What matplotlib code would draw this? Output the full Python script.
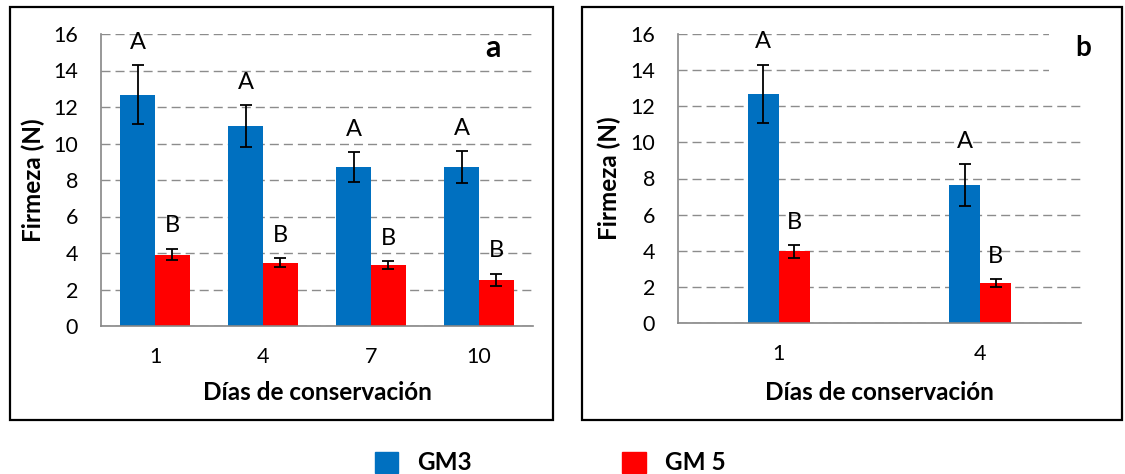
import matplotlib
matplotlib.use("Agg")
import matplotlib.pyplot as plt
from matplotlib.patches import Rectangle, Patch
import numpy as np

plt.rcParams['font.family'] = ['Lato', 'DejaVu Sans']

# panel a
dias_a = ['1', '4', '7', '10']
gm3_a = [12.67, 10.95, 8.69, 8.69]
gm3_a_err = [1.62, 1.16, 0.82, 0.88]
gm5_a = [3.91, 3.46, 3.35, 2.54]
gm5_a_err = [0.32, 0.25, 0.22, 0.33]

# panel b
dias_b = ['1', '4']
gm3_b = [12.68, 7.63]
gm3_b_err = [1.63, 1.16]
gm5_b = [3.96, 2.22]
gm5_b_err = [0.34, 0.23]

letra_gm3 = 'A'
letra_gm5 = 'B'
series = ['GM3', 'GM 5']

AZUL = '#0070C0'
ROJO = '#FF0000'
GRIS = '#868686'

W, H = 1125, 474
fig = plt.figure(figsize=(W / 100, H / 100), dpi=100)


def px_axes(l, r, t, b):
    return [l / W, 1 - b / H, (r - l) / W, (b - t) / H]


def panel(ax, dias, gm3, gm3_err, gm5, gm5_err, width):
    x = np.arange(len(dias))
    ax.set_axisbelow(True)
    ax.yaxis.grid(True, color='#8c8c8c', lw=1.0, linestyle=(0, (6.5, 3.6)))
    ax.bar(x - width / 2, gm3, width, color=AZUL, zorder=2)
    ax.bar(x + width / 2, gm5, width, color=ROJO, zorder=2)
    ax.errorbar(x - width / 2, gm3, yerr=gm3_err, fmt='none', ecolor='black',
                elinewidth=1.3, capsize=4, capthick=1.3, zorder=3)
    ax.errorbar(x + width / 2, gm5, yerr=gm5_err, fmt='none', ecolor='black',
                elinewidth=1.3, capsize=4, capthick=1.3, zorder=3)
    for i in range(len(dias)):
        ax.text(x[i] - width / 2, gm3[i] + gm3_err[i] + 1.25, letra_gm3,
                ha='center', va='center', fontsize=17, zorder=4)
        ax.text(x[i] + width / 2, gm5[i] + gm5_err[i] + 1.25, letra_gm5,
                ha='center', va='center', fontsize=17, zorder=4)
    ax.set_xlim(-0.5, len(dias) - 0.5)
    ax.set_ylim(0, 16)
    ax.set_yticks(range(0, 17, 2))
    ax.set_xticks(x)
    ax.set_xticklabels(dias)
    ax.tick_params(axis='both', length=0, labelsize=15.5, labelcolor='black')
    ax.tick_params(axis='y', pad=16.5)
    ax.tick_params(axis='x', pad=15)
    for s in ['top', 'right']:
        ax.spines[s].set_visible(False)
    for s in ['left', 'bottom']:
        ax.spines[s].set_color(GRIS)
        ax.spines[s].set_linewidth(1.2)
    ax.set_xlabel('Días de conservación', fontsize=17.5, fontweight='bold')
    ax.set_ylabel('Firmeza (N)', fontsize=17.5, fontweight='bold', va='center')


ax_a = fig.add_axes(px_axes(101, 533, 34, 326))
panel(ax_a, dias_a, gm3_a, gm3_a_err, gm5_a, gm5_a_err, 0.32)
ax_a.yaxis.set_label_coords((33 - 101) / 432, 0.5)
ax_a.xaxis.set_label_coords(0.5, (326 - 381) / 292)
ax_a.text((493 - 101) / 432, (326 - 48) / 292, 'a', transform=ax_a.transAxes,
          ha='center', va='center', fontsize=22, fontweight='bold')

ax_b = fig.add_axes(px_axes(678, 1081, 34, 323))
panel(ax_b, dias_b, gm3_b, gm3_b_err, gm5_b, gm5_b_err, 0.155)
ax_b.yaxis.set_label_coords((609 - 678) / 403, 0.5)
ax_b.xaxis.set_label_coords(0.5, (323 - 381) / 289)
ax_b.text((1083 - 678) / 403, (323 - 48) / 289, 'b', transform=ax_b.transAxes,
          ha='center', va='center', fontsize=20, fontweight='bold', clip_on=False,
          zorder=5, bbox=dict(boxstyle='square,pad=0.95', fc='white', ec='none'))

# frames around each panel
for l, r in [(10, 553), (582, 1122)]:
    fig.add_artist(Rectangle((l / W, 1 - 420 / H), (r - l) / W, (420 - 7) / H,
                             transform=fig.transFigure, fill=False,
                             ec='black', lw=1.6))

handles = [Patch(color=AZUL), Patch(color=ROJO)]
fig.legend(handles, series, loc='center', bbox_to_anchor=(0.489, 1 - 463 / H),
           ncol=2, frameon=False, prop={'size': 17.5, 'weight': 'bold'},
           handlelength=0.95, handleheight=0.95, handletextpad=0.8,
           columnspacing=6.2)

fig.savefig('out.png', dpi=100)
